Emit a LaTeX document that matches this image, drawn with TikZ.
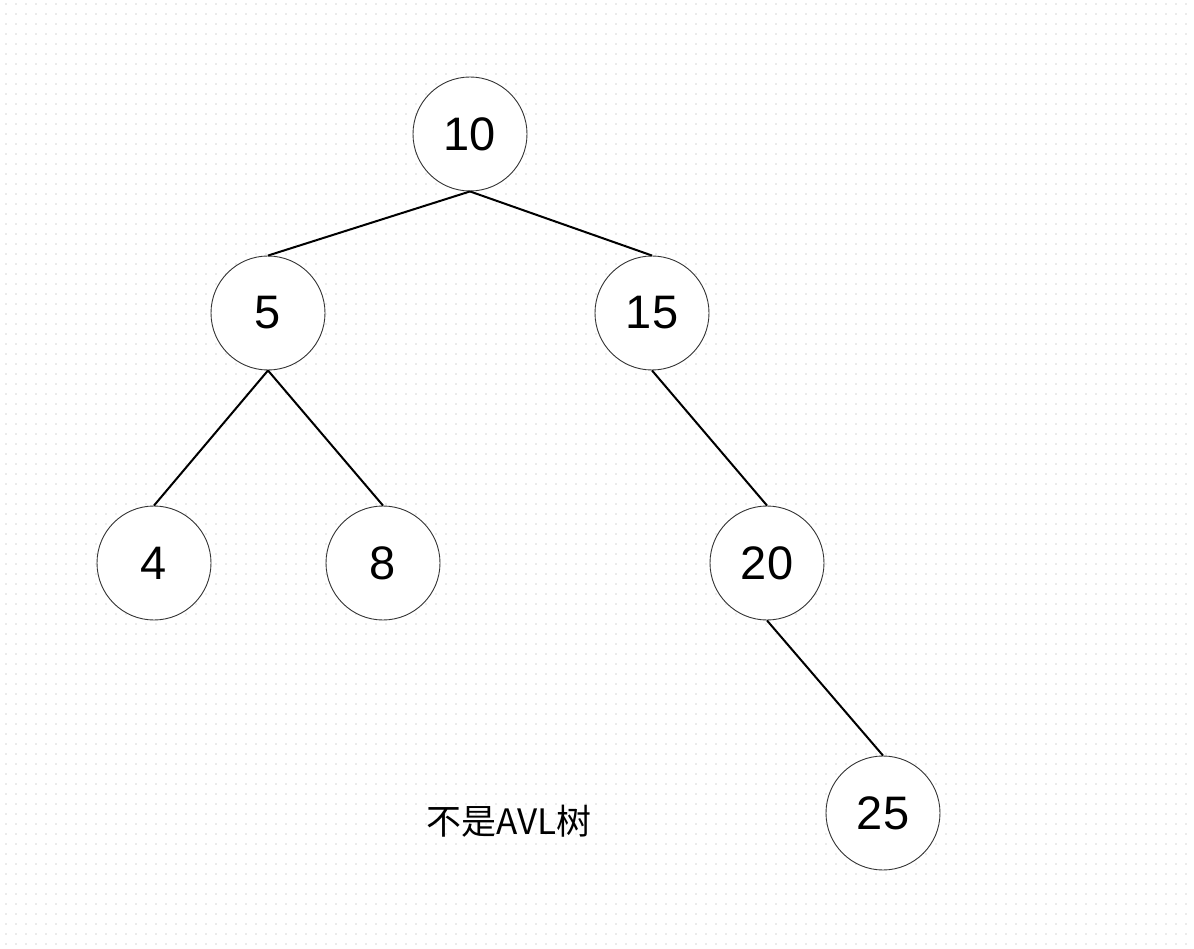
\documentclass[tikz,border=0pt]{standalone}
\usepackage{fontspec}
\setmainfont{Liberation Sans}
\newfontfamily\cjk{Noto Sans CJK SC}
\begin{document}
\begin{tikzpicture}[x=1pt,y=-1pt,
  treenode/.style={circle,draw=black!80,line width=0.9pt,fill=white,minimum size=114pt,inner sep=0pt,font=\fontsize{47}{50}\selectfont},
  edge/.style={line width=2pt,black}]
\useasboundingbox (0,0) rectangle (1194,949);
\fill[white] (0,0) rectangle (1194,949);
\foreach \yy in {4,14,...,944}{
  \draw[black!8,line width=2pt,dash pattern=on 2pt off 8pt] (5,\yy) -- (1194,\yy);
}
\node[treenode] (n10) at (470,134) {10};
\node[treenode] (n5) at (268,313) {5};
\node[treenode] (n15) at (652,313) {15};
\node[treenode] (n4) at (154,563) {4};
\node[treenode] (n8) at (383,563) {8};
\node[treenode] (n20) at (767,563) {20};
\node[treenode] (n25) at (883,813) {25};
\draw[edge] (n10.south) -- (n5.north);
\draw[edge] (n10.south) -- (n15.north);
\draw[edge] (n5.south) -- (n4.north);
\draw[edge] (n5.south) -- (n8.north);
\draw[edge] (n15.south) -- (n20.north);
\draw[edge] (n20.south) -- (n25.north);
\node[font=\cjk\fontsize{35}{38}\selectfont] (cap) at (509,821) {不是AVL树};
\end{tikzpicture}
\end{document}
